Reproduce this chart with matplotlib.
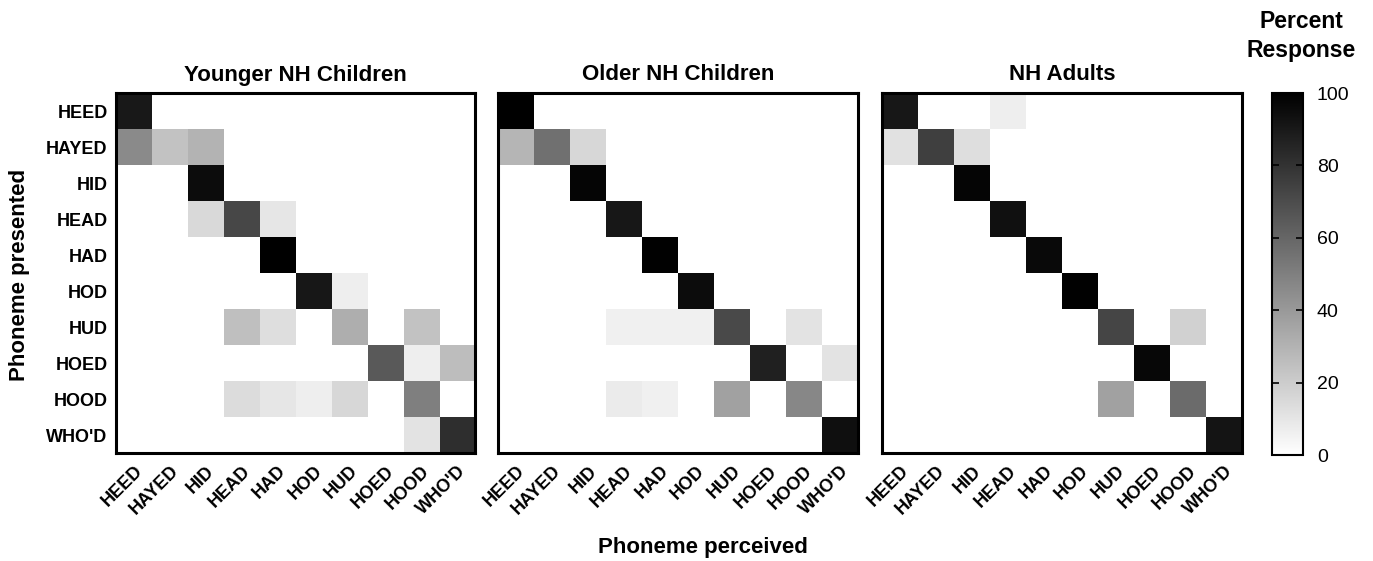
import numpy as np
import matplotlib
matplotlib.use("Agg")
import matplotlib.pyplot as plt
from matplotlib.colors import LinearSegmentedColormap

plt.rcParams['font.family'] = ['Liberation Sans', 'DejaVu Sans']

phonemes = ["HEED", "HAYED", "HID", "HEAD", "HAD", "HOD", "HUD", "HOED", "HOOD", "WHO'D"]
titles = ["Younger NH Children", "Older NH Children", "NH Adults"]

younger = [
    [90, 0, 0, 0, 0, 0, 0, 0, 0, 0],
    [46, 24, 30, 0, 0, 0, 0, 0, 0, 0],
    [0, 0, 95, 0, 0, 0, 0, 0, 0, 0],
    [0, 0, 15, 72, 10, 0, 0, 0, 0, 0],
    [0, 0, 0, 0, 100, 0, 0, 0, 0, 0],
    [0, 0, 0, 0, 0, 91, 7, 0, 0, 0],
    [0, 0, 0, 25, 13, 0, 32, 0, 24, 0],
    [0, 0, 0, 0, 0, 0, 0, 65, 7, 26],
    [0, 0, 0, 14, 10, 7, 16, 0, 50, 0],
    [0, 0, 0, 0, 0, 0, 0, 0, 11, 82],
]
older = [
    [100, 0, 0, 0, 0, 0, 0, 0, 0, 0],
    [29, 56, 16, 0, 0, 0, 0, 0, 0, 0],
    [0, 0, 98, 0, 0, 0, 0, 0, 0, 0],
    [0, 0, 0, 91, 0, 0, 0, 0, 0, 0],
    [0, 0, 0, 0, 99, 0, 0, 0, 0, 0],
    [0, 0, 0, 0, 0, 95, 0, 0, 0, 0],
    [0, 0, 0, 6, 6, 6, 71, 0, 11, 0],
    [0, 0, 0, 0, 0, 0, 0, 87, 0, 11],
    [0, 0, 0, 8, 6, 0, 37, 0, 47, 0],
    [0, 0, 0, 0, 0, 0, 0, 0, 0, 94],
]
adults = [
    [91, 0, 0, 7, 0, 0, 0, 0, 0, 0],
    [12, 75, 13, 0, 0, 0, 0, 0, 0, 0],
    [0, 0, 98, 0, 0, 0, 0, 0, 0, 0],
    [0, 0, 0, 93, 0, 0, 0, 0, 0, 0],
    [0, 0, 0, 0, 96, 0, 0, 0, 0, 0],
    [0, 0, 0, 0, 0, 99, 0, 0, 0, 0],
    [0, 0, 0, 0, 0, 0, 73, 0, 18, 0],
    [0, 0, 0, 0, 0, 0, 0, 97, 0, 0],
    [0, 0, 0, 0, 0, 0, 37, 0, 58, 0],
    [0, 0, 0, 0, 0, 0, 0, 0, 0, 92],
]
cbar_ticks = [0, 20, 40, 60, 80, 100]

cmap = LinearSegmentedColormap.from_list("wb", ["#ffffff", "#000000"])

W, H = 1373, 561
fig = plt.figure(figsize=(W / 100, H / 100), dpi=100)

def box(x0, y0, x1, y1):
    return [x0 / W, 1 - y1 / H, (x1 - x0) / W, (y1 - y0) / H]

panels = [box(116, 93, 475, 453), box(498, 93, 858, 453), box(882, 93, 1242, 453)]
data = [younger, older, adults]

im = None
for i, (pos, d, t) in enumerate(zip(panels, data, titles)):
    ax = fig.add_axes(pos)
    im = ax.imshow(np.array(d), cmap=cmap, vmin=0, vmax=100, aspect='auto',
                   interpolation='nearest')
    ax.set_title(t, fontsize=16, fontweight='bold', pad=9)
    ax.set_xticks(range(len(phonemes)))
    ax.set_xticklabels(phonemes, rotation=45, ha='right', rotation_mode='anchor',
                       fontsize=13, fontweight='bold')
    ax.tick_params(length=0, pad=7)
    if i == 0:
        ax.set_yticks(range(len(phonemes)))
        ax.set_yticklabels(phonemes, fontsize=13, fontweight='bold')
        ax.tick_params(axis='y', pad=6)
    else:
        ax.set_yticks([])
    for s in ax.spines.values():
        s.set_linewidth(2.2)
        s.set_color('black')

fig.text(20 / W, 1 - 275 / H, "Phoneme presented", rotation=90, ha='center', va='center',
         fontsize=16, fontweight='bold')
fig.text(703 / W, 1 - 547 / H, "Phoneme perceived", ha='center', va='center',
         fontsize=16, fontweight='bold')

cax = fig.add_axes(box(1272, 93, 1303, 455))
cb = fig.colorbar(im, cax=cax, ticks=cbar_ticks)
cb.outline.set_linewidth(1.5)
cax.tick_params(labelsize=14, direction='in', length=5, width=1.2, left=True, right=True, pad=10)
cax.set_ylim(0, 100)
fig.text(1301 / W, 1 - 36 / H, "Percent\nResponse", ha='center', va='center',
         fontsize=16.5, fontweight='bold', linespacing=1.35)

fig.savefig("out.png", dpi=100)
